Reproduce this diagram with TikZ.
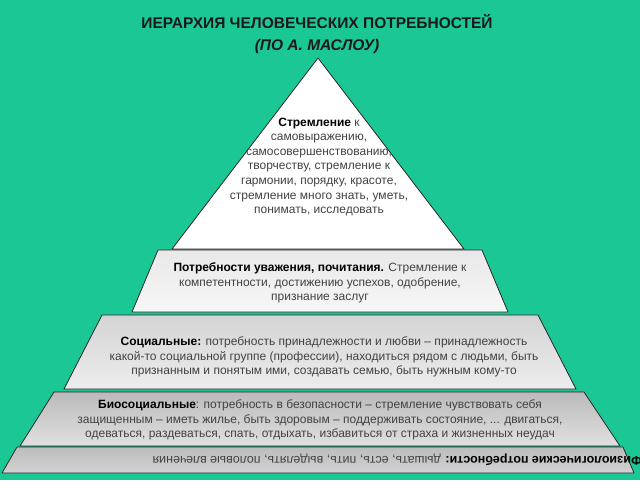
\documentclass[tikz,border=0pt]{standalone}
\usepackage{fontspec}
\setmainfont{Liberation Sans}
\definecolor{bggreen}{RGB}{28,199,150}
\definecolor{txtgray}{RGB}{66,66,66}
\newcommand{\lvlhead}[1]{{\color{black}\bfseries #1}}

\begin{document}
\begin{tikzpicture}[
        x=1pt, y=-1pt,
        every node/.style={align=center, text=txtgray, font=\fontsize{12}{14.6}\selectfont},
        level/.style={draw=black!85, line width=0.8pt, line join=round},
        head/.style={text=black!90, font=\bfseries\fontsize{15.5}{22}\selectfont}
    ]
    \fill[bggreen] (0,0) rectangle (640,480);
    \useasboundingbox (0,0) rectangle (640,480);

    % Levels
    \path[level, fill=white] (318,58) -- (464,249) -- (172,249) -- cycle;
    \path[level, top color=black!9, bottom color=black!3] (158,250) -- (482,250) -- (508,312) -- (132,312) -- cycle;
    \path[level, top color=black!17, bottom color=black!7] (102,315) -- (538,315) -- (576,389) -- (64,389) -- cycle;
    \path[level, top color=black!27, bottom color=black!12] (54,392) -- (584,392) -- (620,446) -- (20,446) -- cycle;
    \path[level, top color=black!26, bottom color=black!18] (17,447) -- (623,447) -- (634,473) -- (2,473) -- cycle;

    % Texts
    \node[head] (title) at (317,34) {ИЕРАРХИЯ ЧЕЛОВЕЧЕСКИХ ПОТРЕБНОСТЕЙ\\{\itshape (ПО А. МАСЛОУ)}};

    \node (self) at (319,167) {\lvlhead{Стремление} к\\самовыражению,\\самосовершенствованию,\\творчеству, стремление к\\гармонии, порядку, красоте,\\стремление много знать, уметь,\\понимать, исследовать};
    \node (esteem) at (320,283) {\lvlhead{Потребности уважения, почитания.} Стремление к\\компетентности, достижению успехов, одобрение,\\признание заслуг};
    \node (social) at (324,357) {\lvlhead{Социальные:} потребность принадлежности и любви – принадлежность\\какой-то социальной группе (профессии), находиться рядом с людьми, быть\\признанным и понятым ими, создавать семью, быть нужным кому-то};
    \node (biosocial) at (320,420) {\lvlhead{Биосоциальные}: потребность в безопасности – стремление чувствовать себя\\защищенным – иметь жилье, быть здоровым – поддерживать состояние, ... двигаться,\\одеваться, раздеваться, спать, отдыхать, избавиться от страха и жизненных неудач};
    \node[rotate=180, anchor=west, inner sep=0pt, font=\fontsize{12.5}{15}\selectfont] (physio) at (642,460) {\lvlhead{Физиологические потребности:} дышать, есть, пить, выделять, половые влечения};

\end{tikzpicture}
\end{document}
